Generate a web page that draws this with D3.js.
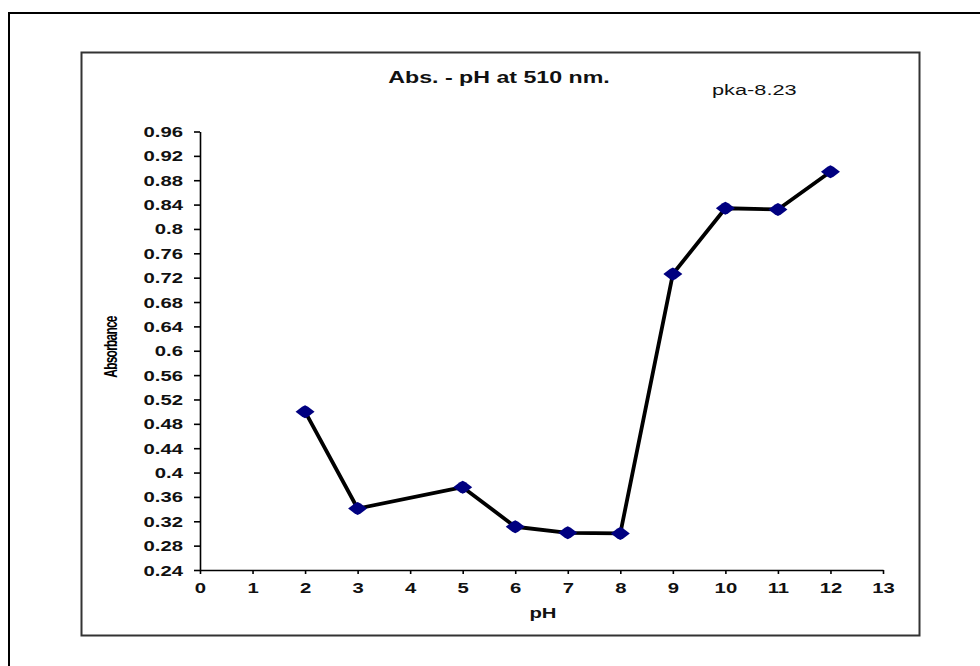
<!DOCTYPE html>
<html>
<head>
<meta charset="utf-8">
<script src="https://cdn.jsdelivr.net/npm/d3@7/dist/d3.min.js"></script>
<style>
  html, body { margin: 0; padding: 0; background: #fff; }
  svg { display: block; }
  text { font-family: "Liberation Sans", Arial, sans-serif; }
</style>
</head>
<body>
<svg id="chart" width="980" height="666"></svg>
<script>
// ---- data ----
const pHValues = [2, 3, 5, 6, 7, 8, 9, 10, 11, 12];
const absorbance = [0.50, 0.341, 0.376, 0.311, 0.301, 0.300, 0.726, 0.834, 0.832, 0.894];
const xTicks = [0, 1, 2, 3, 4, 5, 6, 7, 8, 9, 10, 11, 12, 13];
const yTicks = [0.24, 0.28, 0.32, 0.36, 0.4, 0.44, 0.48, 0.52, 0.56, 0.6, 0.64, 0.68, 0.72, 0.76, 0.8, 0.84, 0.88, 0.92, 0.96];
const yTickLabels = ["0.24", "0.28", "0.32", "0.36", "0.4", "0.44", "0.48", "0.52", "0.56", "0.6", "0.64", "0.68", "0.72", "0.76", "0.8", "0.84", "0.88", "0.92", "0.96"];
const titleText = "Abs. - pH at 510 nm.";
const noteText = "pka-8.23";
const xLabel = "pH";
const yLabel = "Absorbance";

// ---- layout ----
const SX = 1.45; // horizontal stretch of the rendered text
const svg = d3.select("#chart");

// outer frame (runs off the right/bottom edge)
svg.append("path")
  .attr("d", "M9,990 L9,13 L990,13")
  .attr("fill", "none").attr("stroke", "#000").attr("stroke-width", 2);

// inner chart frame
svg.append("rect")
  .attr("x", 81.5).attr("y", 52.5).attr("width", 838).attr("height", 583)
  .attr("fill", "#fff").attr("stroke", "#333").attr("stroke-width", 2);

const x = d3.scaleLinear().domain([0, 13]).range([200, 883]);
const y = d3.scaleLinear().domain([0.24, 0.96]).range([570, 131.5]);

// x axis
const gx = svg.append("g").attr("transform", `translate(0,${y(0.24)})`)
  .call(d3.axisBottom(x).tickValues(xTicks).tickFormat(d3.format("d")).tickSizeOuter(0).tickSizeInner(4));
gx.select(".domain").attr("stroke", "#000").attr("stroke-width", 1.6);
gx.selectAll(".tick line").attr("stroke", "#000").attr("stroke-width", 1.6);
gx.selectAll(".tick text")
  .attr("y", null).attr("dy", null)
  .attr("transform", `translate(0,23) scale(${SX},1)`)
  .attr("font-size", 14).attr("font-weight", "bold").attr("fill", "#111")
  .attr("text-anchor", "middle");

// y axis
const gy = svg.append("g").attr("transform", `translate(${x(0)},0)`)
  .call(d3.axisLeft(y).tickValues(yTicks).tickFormat((d, i) => yTickLabels[i]).tickSizeOuter(0).tickSizeInner(6));
gy.select(".domain").attr("stroke", "#000").attr("stroke-width", 1.6);
gy.selectAll(".tick line").attr("stroke", "#000").attr("stroke-width", 1.6);
gy.selectAll(".tick text")
  .attr("x", null).attr("dy", null)
  .attr("transform", `translate(-17,5) scale(${SX},1)`)
  .attr("font-size", 14).attr("font-weight", "bold").attr("fill", "#111")
  .attr("text-anchor", "end");

// title & note
svg.append("text")
  .attr("transform", `translate(499,83) scale(${SX},1)`)
  .attr("text-anchor", "middle").attr("font-size", 16).attr("font-weight", "bold").attr("fill", "#111")
  .text(titleText);
svg.append("text")
  .attr("transform", `translate(712,95) scale(${SX},1)`)
  .attr("text-anchor", "start").attr("font-size", 15).attr("fill", "#111")
  .text(noteText);

// axis labels
svg.append("text")
  .attr("transform", `translate(543,618) scale(${SX},1)`)
  .attr("text-anchor", "middle").attr("font-size", 14).attr("font-weight", "bold").attr("fill", "#111")
  .text(xLabel);
svg.append("text")
  .attr("transform", `translate(117,347) scale(1.6,1) rotate(-90)`)
  .attr("text-anchor", "middle").attr("font-size", 12).attr("font-weight", "bold").attr("fill", "#000")
  .attr("letter-spacing", -0.8)
  .text(yLabel);

// data line
const pts = pHValues.map((p, i) => [p, absorbance[i]]);
svg.append("path")
  .datum(pts)
  .attr("fill", "none").attr("stroke", "#000").attr("stroke-width", 3.8)
  .attr("stroke-linejoin", "round")
  .attr("d", d3.line().x(d => x(d[0])).y(d => y(d[1])));

// markers (diamonds)
svg.append("g").selectAll("path")
  .data(pts)
  .join("path")
  .attr("transform", d => `translate(${x(d[0])},${y(d[1])})`)
  .attr("d", "M-9.5,0 L-3,-5 L0,-6.5 L3,-5 L9.5,0 L3,5 L0,6.5 L-3,5 Z")
  .attr("fill", "#000080");
</script>
</body>
</html>
